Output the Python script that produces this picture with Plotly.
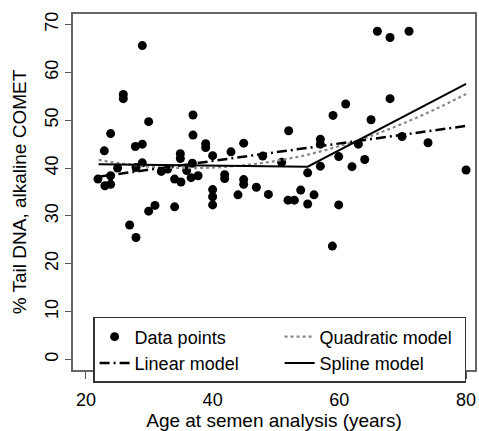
import plotly.graph_objects as go

# Data points (age, % tail DNA)
age = [21.9, 22.9, 23.0, 23.9, 23.9, 23.9, 25.0, 25.9, 25.9, 26.9,
       27.8, 27.9, 27.9, 28.9, 28.9, 28.9, 29.9, 29.9, 30.9, 31.9,
       32.9, 34.0, 34.0, 34.9, 34.9, 35.0, 35.9, 36.6, 36.8, 36.9,
       36.9, 37.7, 38.9, 38.9, 40.0, 40.0, 40.0, 40.0, 41.9, 41.9,
       42.9, 44.0, 44.9, 44.9, 44.9, 46.9, 47.9, 48.8, 50.9, 51.9,
       52.0, 52.9, 53.9, 55.0, 55.0, 56.0, 57.0, 57.0, 57.0, 58.9,
       59.0, 59.9, 59.9, 61.0, 62.0, 63.0, 64.0, 65.0, 66.0, 68.0,
       68.0, 69.9, 71.0, 74.0, 80.0]
tail = [37.7, 43.6, 36.3, 38.4, 36.6, 47.2, 40.0, 55.4, 54.5, 28.1,
        44.5, 40.1, 25.5, 45.0, 41.1, 65.6, 49.7, 31.0, 32.2, 39.3,
        39.8, 37.7, 31.9, 43.0, 42.0, 37.1, 39.5, 38.0, 41.0, 51.1,
        46.9, 38.4, 45.1, 44.3, 42.6, 35.5, 34.0, 32.3, 38.6, 37.8,
        43.4, 34.4, 45.2, 37.6, 36.6, 36.0, 42.5, 34.5, 41.2, 33.3,
        47.8, 33.3, 35.4, 39.0, 32.5, 34.4, 46.0, 45.0, 40.4, 23.7,
        51.0, 42.4, 32.3, 53.4, 40.3, 45.0, 41.8, 50.1, 68.6, 67.3,
        54.5, 46.6, 68.6, 45.3, 39.6]

# Model curves
lin_age = [22, 80]
lin_val = [38.2, 48.8]

quad_age = [22, 26, 30, 35, 40, 45, 50, 55, 60, 65, 70, 75, 80]
quad_val = [41.7, 40.9, 40.3, 40.0, 40.1, 40.6, 41.5, 42.8, 44.6, 46.7, 49.3, 52.2, 55.5]

spl_age = [22, 55, 80]
spl_val = [40.8, 40.3, 57.6]

x_ticks = [20, 40, 60, 80]
y_ticks = [0, 10, 20, 30, 40, 50, 60, 70]

FONT = "Liberation Sans, Arial, sans-serif"

fig = go.Figure()
fig.add_trace(go.Scatter(x=age, y=tail, mode="markers", name="Data points",
                         marker=dict(color="black", size=9, line=dict(width=0))))
fig.add_trace(go.Scatter(x=quad_age, y=quad_val, mode="lines", name="Quadratic model",
                         line=dict(color="#888888", width=2.2, dash="dot", shape="spline")))
fig.add_trace(go.Scatter(x=lin_age, y=lin_val, mode="lines", name="Linear model",
                         line=dict(color="black", width=2.5, dash="10px,4px,2px,4px")))
fig.add_trace(go.Scatter(x=spl_age, y=spl_val, mode="lines", name="Spline model",
                         line=dict(color="black", width=2)))

fig.update_layout(
    width=479, height=431,
    margin=dict(l=73, r=2, t=14, b=48),
    paper_bgcolor="white", plot_bgcolor="white",
    font=dict(family=FONT, size=18, color="black"),
    showlegend=True,
    legend=dict(
        orientation="h", x=0.05, y=0.149, xanchor="left", yanchor="top",
        entrywidth=140, entrywidthmode="pixels", traceorder="normal",
        bgcolor="white", bordercolor="#333333", borderwidth=1.5,
        font=dict(size=18), itemwidth=30, tracegroupgap=0,
    ),
    xaxis=dict(
        range=[17.96, 81.41], tickvals=x_ticks, ticks="outside", ticklen=7,
        tickcolor="#555555", showgrid=False, zeroline=False,
        showline=True, linecolor="#666666", linewidth=1.5, mirror=True,
        tickfont=dict(size=18), ticklabelstandoff=6,
        title=dict(text="Age at semen analysis (years)", font=dict(size=19), standoff=5),
    ),
    yaxis=dict(
        range=[-2.2, 72.2], tickvals=y_ticks, ticks="outside", ticklen=6,
        tickcolor="#555555", showgrid=False, zeroline=False,
        showline=True, linecolor="#666666", linewidth=1.5, mirror=True,
        tickangle=-90, tickfont=dict(size=18), ticklabelstandoff=0,
        title=dict(text="% Tail DNA, alkaline COMET", font=dict(size=19), standoff=10),
    ),
)

fig.write_html("out.html")
